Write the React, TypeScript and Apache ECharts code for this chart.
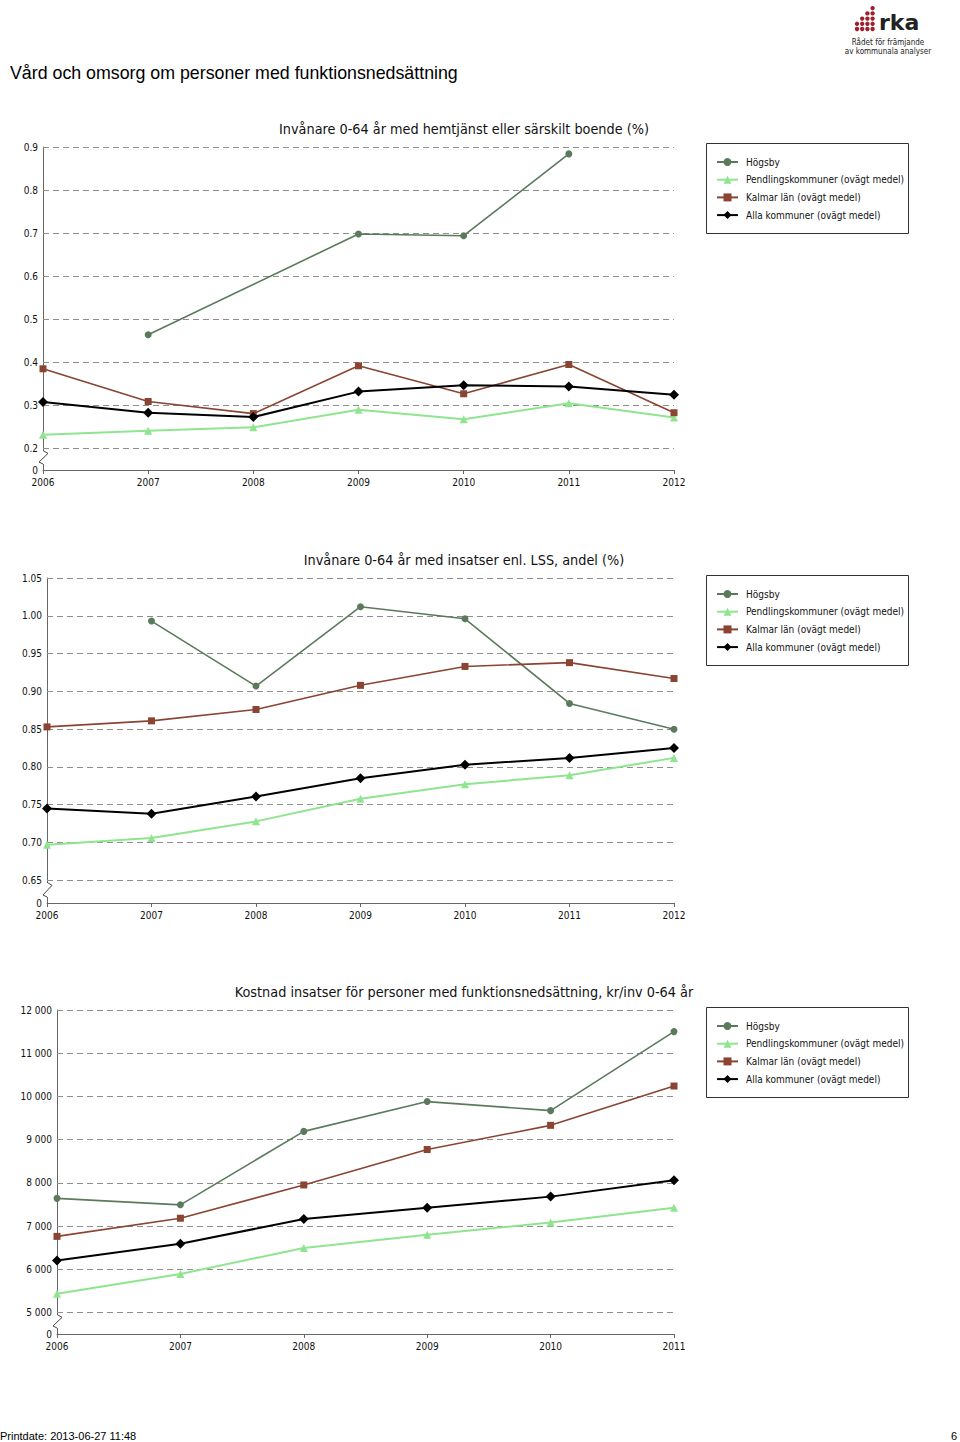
import React, { useEffect, useRef } from "react";
import * as echarts from "echarts";

// ---------- data ----------
const YEARS_A = ["2006", "2007", "2008", "2009", "2010", "2011", "2012"];
const YEARS_C = ["2006", "2007", "2008", "2009", "2010", "2011"];
const SERIES_NAMES = [
  "Högsby",
  "Pendlingskommuner (ovägt medel)",
  "Kalmar län (ovägt medel)",
  "Alla kommuner (ovägt medel)",
];

const hemtjanstHogsby = [null, 0.464, null, 0.698, 0.694, 0.884, null];
const hemtjanstPendling = [0.232, 0.241, 0.249, 0.29, 0.268, 0.305, 0.272];
const hemtjanstKalmar = [0.385, 0.309, 0.281, 0.392, 0.327, 0.395, 0.283];
const hemtjanstAlla = [0.308, 0.283, 0.273, 0.332, 0.347, 0.344, 0.325];

const lssHogsby = [null, 0.993, 0.907, 1.012, 0.996, 0.884, 0.85];
const lssPendling = [0.697, 0.706, 0.728, 0.758, 0.777, 0.789, 0.812];
const lssKalmar = [0.853, 0.861, 0.876, 0.908, 0.933, 0.938, 0.917];
const lssAlla = [0.745, 0.738, 0.761, 0.785, 0.803, 0.812, 0.825];

const kostnadHogsby = [7640, 7490, 9190, 9880, 9670, 11500];
const kostnadPendling = [5430, 5890, 6490, 6800, 7080, 7420];
const kostnadKalmar = [6760, 7180, 7950, 8770, 9330, 10240];
const kostnadAlla = [6200, 6590, 7160, 7420, 7680, 8060];

const TICKS_A = [0.2, 0.3, 0.4, 0.5, 0.6, 0.7, 0.8, 0.9];
const TICKS_B = [0.65, 0.7, 0.75, 0.8, 0.85, 0.9, 0.95, 1.0, 1.05];
const TICKS_C = [5000, 6000, 7000, 8000, 9000, 10000, 11000, 12000];

const PAGE_TITLE = "Vård och omsorg om personer med funktionsnedsättning";
const CHART_TITLES = [
  "Invånare 0-64 år med hemtjänst eller särskilt boende (%)",
  "Invånare 0-64 år med insatser enl. LSS, andel (%)",
  "Kostnad insatser för personer med funktionsnedsättning, kr/inv 0-64 år",
];
const FOOTER = "Printdate: 2013-06-27 11:48";
const PAGE_NO = "6";

// ---------- styles ----------
const COLORS = ["#5b7a5c", "#8fe58f", "#8a4432", "#000000"];
const SYMBOLS = ["circle", "triangle", "rect", "diamond"];
const SYMBOL_SIZES = [7, 8, 7, 10];
const LINE_WIDTHS = [1.6, 2, 1.6, 2];
const FONT = "'DejaVu Sans Condensed', 'Liberation Sans Narrow', 'DejaVu Sans', sans-serif";

const GRIDS = [
  { left: 43, top: 147, width: 631, height: 323 },
  { left: 47, top: 578, width: 627, height: 325 },
  { left: 57, top: 1010, width: 617, height: 324 },
];
const AXES = [
  { min: 0.15, max: 0.9, interval: 0.05 },
  { min: 0.62, max: 1.05, interval: 0.01 },
  { min: 4500, max: 12000, interval: 500 },
];
const LEGEND_TOPS = [143, 575, 1007];

function fmtA(v: number) {
  const r = Math.round(v * 100);
  if (r === 15) return "0";
  if (r % 10 === 0) return (r / 100).toFixed(1);
  return "";
}
function fmtB(v: number) {
  const r = Math.round(v * 100);
  if (r === 62) return "0";
  if (r % 5 === 0) return (r / 100).toFixed(2);
  return "";
}
function fmtC(v: number) {
  const r = Math.round(v);
  if (r === 4500) return "0";
  if (r % 1000 === 0) {
    const s = String(r);
    return s.length > 3 ? s.slice(0, s.length - 3) + " " + s.slice(-3) : s;
  }
  return "";
}
const FORMATTERS = [fmtA, fmtB, fmtC];
const TICKS = [TICKS_A, TICKS_B, TICKS_C];

export default function App() {
  const ref = useRef<HTMLDivElement>(null);
  useEffect(() => {
    if (!ref.current) return;
    const chart = echarts.init(ref.current, undefined, { renderer: "svg" });

    const datasets = [
      [hemtjanstHogsby, hemtjanstPendling, hemtjanstKalmar, hemtjanstAlla],
      [lssHogsby, lssPendling, lssKalmar, lssAlla],
      [kostnadHogsby, kostnadPendling, kostnadKalmar, kostnadAlla],
    ];
    const categories = [YEARS_A, YEARS_A, YEARS_C];

    const series: any[] = [];
    datasets.forEach((group, gi) => {
      // gridlines
      series.push({
        type: "line",
        name: "grid" + gi,
        xAxisIndex: gi,
        yAxisIndex: gi,
        data: categories[gi].map(() => null),
        silent: true,
        symbol: "none",
        markLine: {
          silent: true,
          symbol: ["none", "none"],
          label: { show: false },
          lineStyle: { color: "#8e8e8e", type: [6, 4], width: 1 },
          data: TICKS[gi].map((t) => ({ yAxis: t })),
          z: 1,
        },
      });
      group.forEach((d, si) => {
        series.push({
          type: "line",
          name: SERIES_NAMES[si],
          xAxisIndex: gi,
          yAxisIndex: gi,
          data: d,
          connectNulls: true,
          symbol: SYMBOLS[si],
          symbolSize: SYMBOL_SIZES[si],
          showSymbol: true,
          color: COLORS[si],
          lineStyle: { color: COLORS[si], width: LINE_WIDTHS[si] },
          itemStyle: { color: COLORS[si] },
          z: 3 + si,
        });
      });
    });

    const option: any = {
      animation: false,
      textStyle: { fontFamily: FONT },
      grid: GRIDS.map((g) => ({ ...g, containLabel: false })),
      xAxis: GRIDS.map((_, i) => ({
        type: "category",
        gridIndex: i,
        data: categories[i],
        boundaryGap: false,
        axisLine: { lineStyle: { color: "#666", width: 1 } },
        axisTick: { show: true, length: 4, lineStyle: { color: "#666" } },
        axisLabel: { color: "#111", fontSize: 10, margin: 7, fontFamily: FONT },
        splitLine: { show: false },
      })),
      yAxis: GRIDS.map((_, i) => ({
        type: "value",
        gridIndex: i,
        min: AXES[i].min,
        max: AXES[i].max,
        interval: AXES[i].interval,
        axisLine: { show: true, lineStyle: { color: "#666", width: 1 } },
        axisTick: { show: false },
        axisLabel: {
          color: "#111",
          fontSize: 10,
          margin: 5,
          fontFamily: FONT,
          formatter: FORMATTERS[i],
        },
        splitLine: { show: false },
      })),
      legend: LEGEND_TOPS.map((top) => ({
        orient: "vertical",
        left: 706,
        top: top + 1,
        padding: [12, 8, 12, 10],
        itemWidth: 21,
        itemHeight: 10,
        itemGap: 5.7,
        data: SERIES_NAMES,
        selectedMode: false,
        textStyle: { fontSize: 10, color: "#111", fontFamily: FONT, lineHeight: 12, padding: [0, 0, 0, 3] },
      })),
      series,
    };
    chart.setOption(option);

    // decorations: page texts, logo, legend frames, axis breaks
    const graphic: any[] = [];
    graphic.push({
      type: "text",
      x: 10,
      y: 73,
      style: {
        text: PAGE_TITLE,
        font: "17.8px 'Liberation Sans', Arial, sans-serif",
        fill: "#000",
        verticalAlign: "middle",
      },
    });
    graphic.push({
      type: "text",
      x: 0,
      y: 1436,
      style: {
        text: FOOTER,
        font: "11px 'Liberation Sans', Arial, sans-serif",
        fill: "#000",
        verticalAlign: "middle",
      },
    });
    graphic.push({
      type: "text",
      x: 957,
      y: 1436,
      style: {
        text: PAGE_NO,
        font: "11px 'Liberation Sans', Arial, sans-serif",
        fill: "#000",
        align: "right",
        verticalAlign: "middle",
      },
    });
    // logo
    const dotCols = [2, 3, 4, 5];
    dotCols.forEach((h, c) => {
      for (let r = 0; r < h; r++) {
        graphic.push({
          type: "circle",
          shape: { cx: 857 + c * 5.2, cy: 29 - r * 5.2, r: 2.2 },
          style: { fill: "#a0202e" },
        });
      }
    });
    graphic.push({
      type: "text",
      x: 879,
      y: 22,
      style: {
        text: "rka",
        font: "bold 22px 'DejaVu Sans', sans-serif",
        fill: "#222",
        verticalAlign: "middle",
      },
    });
    graphic.push({
      type: "text",
      x: 888,
      y: 42,
      style: { text: "Rådet för främjande", font: "8px 'DejaVu Sans Condensed', 'DejaVu Sans', sans-serif", fill: "#222", align: "center", verticalAlign: "middle" },
    });
    graphic.push({
      type: "text",
      x: 888,
      y: 51,
      style: { text: "av kommunala analyser", font: "8px 'DejaVu Sans Condensed', 'DejaVu Sans', sans-serif", fill: "#222", align: "center", verticalAlign: "middle" },
    });

    GRIDS.forEach((g, i) => {
      // chart title
      graphic.push({
        type: "text",
        x: 464,
        y: g.top - 18,
        style: {
          text: CHART_TITLES[i],
          font: "14.3px " + FONT,
          fill: "#111",
          align: "center",
          verticalAlign: "middle",
        },
      });
      // legend frame
      graphic.push({
        type: "rect",
        shape: { x: 706.5, y: LEGEND_TOPS[i] + 0.5, width: 202, height: 90 },
        style: { fill: "none", stroke: "#333", lineWidth: 1 },
        z: 10,
      });
      // axis break
      const pTop = chart.convertToPixel({ gridIndex: i }, [0, TICKS[i][0]]) as number[];
      const pMin = chart.convertToPixel({ gridIndex: i }, [0, AXES[i].min]) as number[];
      if (pTop && pMin) {
        const ax = pTop[0];
        const yT = pTop[1];
        const span = pMin[1] - yT;
        graphic.push({
          type: "rect",
          shape: { x: ax - 2, y: yT + 2, width: 4, height: span - 8 },
          style: { fill: "#fff" },
          z: 20,
        });
        graphic.push({
          type: "polyline",
          shape: {
            points: [
              [ax, yT + 2],
              [ax + 5, yT + 5],
              [ax - 4, yT + span - 8],
              [ax, yT + span - 6],
            ],
          },
          style: { stroke: "#444", lineWidth: 1, fill: "none" },
          z: 21,
        });
      }
    });
    chart.setOption({ graphic });

    return () => chart.dispose();
  }, []);

  return (
    <div
      ref={ref}
      style={{ position: "absolute", left: 0, top: 0, width: 960, height: 1442, background: "#fff" }}
    />
  );
}
